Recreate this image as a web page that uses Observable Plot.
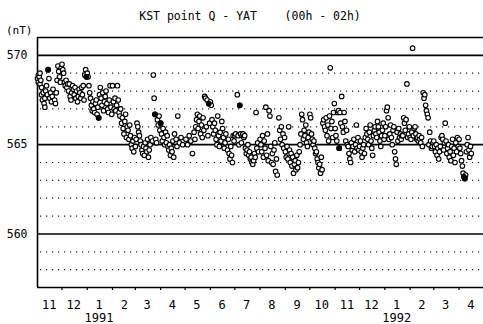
<!DOCTYPE html>
<html>
<head>
<meta charset="utf-8">
<script src="https://cdn.jsdelivr.net/npm/d3@7"></script>
<script src="https://cdn.jsdelivr.net/npm/@observablehq/plot@0.6"></script>
<style>
  html, body { margin: 0; padding: 0; background: #fff; }
  #wrap { position: relative; width: 483px; height: 324px; overflow: hidden; font-family: "DejaVu Sans Mono", monospace; color: #000; }
  #title { position: absolute; left: 0; width: 500px; top: 9px; text-align: center; font-size: 11.5px; white-space: pre; }
  #unit { position: absolute; left: 6px; top: 24px; font-size: 11px; }
  #chart { position: absolute; left: 0; top: 0; }
</style>
</head>
<body>
<div id="wrap">
  <div id="chart"></div>
  <div id="title">KST point Q - YAT    (00h - 02h)</div>
  <div id="unit">(nT)</div>
</div>
<script>
// Daily values (nT): [day of month, value]
const nov1990 = [[1,568.7],[2,568.9],[2,568.5],[3,568.8],[4,569.0],[4,568.4],[5,568.6],[6,568.2],[6,567.8],[7,567.5],[8,567.9],[9,567.3],[10,567.6],[10,567.1],[11,568.0],[12,568.3],[13,567.8],[14,569.2],[15,568.7],[16,567.6],[17,567.9],[18,567.4],[19,567.7],[20,568.1],[22,567.5],[23,567.3],[24,567.9],[25,568.6],[26,569.4],[27,569.1],[28,568.8],[29,568.5],[30,569.3]];
const dec1990 = [[1,569.5],[2,569.2],[3,569.0],[4,568.5],[5,568.3],[6,568.6],[7,568.2],[8,568.4],[9,568.0],[10,568.4],[11,567.7],[12,567.5],[13,567.9],[14,568.3],[15,568.1],[16,567.8],[17,568.2],[18,567.6],[19,568.0],[20,567.4],[21,567.7],[22,568.1],[23,567.9],[24,567.6],[25,568.2],[26,567.8],[27,568.3],[28,567.5],[29,568.9],[30,569.2],[31,568.8]];
const jan1991 = [[1,569.0],[2,568.8],[3,568.3],[4,567.9],[5,567.6],[6,567.2],[7,566.9],[8,567.4],[9,567.0],[10,566.8],[11,567.3],[12,567.5],[13,566.7],[14,567.1],[15,566.5],[16,567.8],[17,568.2],[18,567.6],[19,567.2],[20,567.9],[21,566.9],[22,567.4],[23,567.7],[24,568.0],[25,567.3],[26,567.0],[27,566.8],[28,567.5],[29,568.3],[30,567.1],[31,566.7]];
const feb1991 = [[1,568.3],[2,567.4],[3,567.0],[4,567.6],[5,566.9],[6,567.2],[7,568.3],[8,567.5],[9,566.8],[10,566.6],[11,567.0],[12,566.2],[13,566.5],[14,565.9],[15,565.6],[16,566.3],[17,566.7],[18,565.4],[19,566.0],[20,565.8],[21,565.3],[22,566.1],[23,565.5],[24,565.0],[25,564.8],[26,565.2],[27,564.6],[28,565.4]];
const mar1991 = [[1,564.9],[2,565.3],[3,566.2],[4,566.0],[5,565.7],[6,565.5],[7,565.2],[8,565.0],[9,564.7],[10,564.5],[11,564.9],[12,564.4],[13,565.1],[14,564.8],[15,564.6],[16,565.3],[17,564.3],[18,564.7],[19,565.0],[20,565.4],[22,565.2],[23,568.9],[24,567.6],[25,566.7],[26,565.3],[27,565.1],[28,566.4],[29,566.1],[30,566.6],[31,565.8]];
const apr1991 = [[1,566.2],[2,565.6],[3,565.2],[4,565.9],[5,565.4],[6,565.0],[7,565.7],[8,565.1],[9,565.5],[10,564.9],[11,564.7],[12,565.0],[13,564.4],[14,564.8],[15,564.6],[16,565.2],[17,564.3],[18,565.6],[20,565.3],[21,564.9],[22,566.6],[24,565.1],[26,565.4],[28,565.0]];
const may1991 = [[2,565.3],[4,565.0],[6,565.5],[8,565.2],[10,564.5],[12,565.7],[13,565.3],[14,566.0],[15,566.4],[16,566.7],[17,565.9],[18,566.3],[19,566.6],[20,565.6],[21,566.1],[22,565.4],[23,566.5],[24,565.8],[25,567.7],[26,567.6],[27,566.0],[28,567.5],[29,565.5],[30,567.3],[31,566.2]];
const jun1991 = [[1,567.4],[2,567.2],[3,566.4],[4,566.0],[5,565.6],[6,566.2],[7,565.8],[8,565.3],[9,565.0],[10,566.6],[11,565.5],[12,564.9],[13,565.7],[14,565.2],[15,566.3],[16,565.9],[17,565.4],[18,564.8],[19,565.1],[20,565.6],[22,564.7],[23,565.3],[24,564.5],[25,564.2],[26,564.9],[27,564.4],[28,564.0],[29,565.5],[30,565.2]];
const jul1991 = [[1,565.5],[2,565.6],[4,567.8],[5,565.5],[6,565.0],[7,567.2],[8,565.6],[9,565.1],[10,565.5],[11,565.6],[12,565.4],[13,565.5],[14,564.8],[15,564.5],[16,564.7],[17,565.0],[18,564.4],[19,564.6],[20,564.2],[21,564.3],[22,564.0],[23,563.9],[24,564.1],[25,564.5],[26,564.3],[27,566.8],[28,564.8],[29,565.1],[30,564.6]];
const aug1991 = [[1,565.3],[2,565.0],[3,564.6],[4,565.5],[5,564.3],[6,565.2],[7,564.8],[8,567.1],[9,564.4],[10,565.6],[11,564.1],[12,566.9],[13,566.6],[14,564.9],[15,564.0],[16,564.5],[17,563.9],[18,564.7],[19,565.1],[20,563.5],[21,564.2],[22,563.3],[24,566.5],[25,565.8],[26,565.3],[27,566.0],[28,565.0],[29,565.6],[30,564.8],[31,565.4]];
const sep1991 = [[1,564.6],[2,564.3],[3,564.9],[4,564.2],[5,566.0],[6,564.7],[7,564.0],[8,564.5],[9,563.8],[10,564.3],[11,563.4],[12,563.9],[13,564.1],[14,563.6],[15,564.4],[16,563.7],[17,564.0],[18,564.6],[19,565.0],[20,565.6],[21,566.7],[22,566.4],[23,565.3],[24,565.8],[25,565.5],[26,566.1],[27,565.1],[28,564.9],[29,565.4],[30,565.7]];
const oct1991 = [[1,566.7],[2,566.5],[3,565.6],[4,565.3],[5,565.0],[6,565.2],[7,564.8],[8,564.5],[9,564.6],[10,564.2],[11,564.0],[12,563.7],[13,563.9],[14,563.4],[15,564.3],[16,563.6],[17,566.2],[18,566.4],[19,566.0],[20,565.8],[21,566.5],[22,565.5],[23,566.1],[24,565.2],[25,566.6],[26,569.3],[27,565.9],[28,566.3],[29,565.4],[30,566.8],[31,567.3]];
const nov1991 = [[1,565.9],[2,565.5],[3,565.2],[4,566.8],[5,566.9],[6,564.8],[7,566.8],[8,566.2],[9,567.7],[10,566.0],[11,565.7],[12,566.8],[13,566.3],[14,565.2],[15,565.8],[16,565.0],[17,564.9],[18,564.5],[19,564.2],[20,564.0],[21,565.1],[22,564.7],[23,564.9],[24,565.3],[25,564.6],[26,565.0],[27,566.1],[28,564.8],[29,565.4],[30,564.7]];
const dec1991 = [[1,564.9],[2,565.2],[3,564.6],[4,564.3],[5,564.8],[6,565.0],[7,564.5],[8,565.4],[9,565.9],[10,565.6],[11,565.3],[12,565.0],[13,565.7],[14,566.1],[15,565.2],[16,564.8],[17,564.4],[18,565.5],[19,565.8],[20,566.0],[21,565.6],[22,565.4],[23,566.3],[24,566.0],[25,565.7],[26,565.2],[27,564.9],[28,565.5],[29,565.8],[30,566.2],[31,565.3]];
const jan1992 = [[1,565.5],[2,566.0],[3,566.9],[4,567.1],[5,566.5],[6,565.3],[7,565.6],[8,566.1],[9,565.4],[10,565.0],[11,565.8],[12,566.0],[13,564.6],[14,564.2],[15,563.9],[16,565.7],[17,565.2],[18,565.9],[19,565.4],[20,565.6],[21,565.3],[22,565.5],[23,565.5],[24,566.5],[25,566.2],[26,565.8],[27,566.4],[28,568.4],[29,565.4],[30,565.6],[31,566.0]];
const feb1992 = [[1,565.4],[2,565.3],[3,565.7],[4,570.4],[5,565.5],[6,565.9],[7,566.0],[8,565.6],[9,565.3],[10,565.4],[11,565.2],[12,565.5],[13,565.3],[14,565.1],[15,565.4],[16,564.9],[17,567.9],[18,567.6],[19,567.8],[20,567.2],[21,566.9],[22,566.7],[23,566.5],[24,565.0],[25,565.7],[26,565.2],[27,564.8],[28,564.9],[29,565.1]];
const mar1992 = [[1,565.2],[2,564.9],[3,564.6],[4,565.0],[5,564.4],[6,564.8],[7,564.2],[8,564.6],[9,564.9],[10,565.4],[11,565.5],[12,565.3],[13,564.7],[14,565.1],[15,566.2],[16,565.2],[17,564.5],[18,564.8],[19,565.0],[20,564.3],[21,564.6],[22,564.1],[23,564.9],[24,565.3],[25,564.4],[26,564.8],[27,564.0],[28,565.1],[29,564.6],[30,565.4],[31,564.9]];
const apr1992 = [[1,565.3],[2,564.8],[3,564.5],[4,564.1],[5,563.8],[6,563.4],[7,563.2],[8,563.1],[9,563.3],[10,564.6],[11,565.0],[12,565.4],[13,564.7],[14,564.3],[15,564.9],[16,564.5]];

// Dark (filled-looking) points in the scan: [year, month, day]
const filledDays = [[1990,11,14],[1990,12,31],[1991,1,15],[1991,3,25],[1991,4,1],[1991,5,30],[1991,7,7],[1991,11,6],[1992,4,7],[1992,4,8]];

const monthBlocks = [
  [1990,11,nov1990],[1990,12,dec1990],[1991,1,jan1991],[1991,2,feb1991],[1991,3,mar1991],[1991,4,apr1991],
  [1991,5,may1991],[1991,6,jun1991],[1991,7,jul1991],[1991,8,aug1991],[1991,9,sep1991],[1991,10,oct1991],
  [1991,11,nov1991],[1991,12,dec1991],[1992,1,jan1992],[1992,2,feb1992],[1992,3,mar1992],[1992,4,apr1992]
];

const yLabels = [560, 565, 570];
const solidLevels = [557, 560, 565, 570, 571];
const dottedLevels = [558, 559, 561, 562, 563, 564, 566, 567, 568, 569];
const yDomain = [557, 571];
const xStart = new Date(Date.UTC(1990, 10, 1));
const xEnd = new Date(Date.UTC(1992, 4, 1));

const rows = [];
for (const [yr, mo, arr] of monthBlocks) {
  for (const [day, v] of arr) rows.push({date: new Date(Date.UTC(yr, mo - 1, day, 1)), value: v});
}
const filledKeys = new Set(filledDays.map(([y, m, d]) => `${y}-${m}-${d}`));
const filledRows = rows.filter(r => filledKeys.has(`${r.date.getUTCFullYear()}-${r.date.getUTCMonth() + 1}-${r.date.getUTCDate()}`));

const monthStarts = d3.utcMonth.range(xStart, d3.utcMonth.offset(xEnd, 1));
const midMonths = d3.utcMonth.range(xStart, xEnd).map(d => new Date(d.getTime() + 14.5 * 864e5));

const chart = Plot.plot({
  width: 483,
  height: 324,
  marginLeft: 37,
  marginRight: 0,
  marginTop: 37,
  marginBottom: 37,
  style: {fontFamily: "'DejaVu Sans Mono', monospace", fontSize: "11px", background: "#fff", color: "#000"},
  x: {type: "utc", domain: [xStart, xEnd]},
  y: {domain: yDomain},
  marks: [
    Plot.ruleY(dottedLevels, {stroke: "#222", strokeWidth: 1.2, strokeDasharray: "1.2,4.8", x1: xStart, x2: xEnd, dx: 3}),
    Plot.ruleY(solidLevels, {stroke: "#000", strokeWidth: 1.6}),
    Plot.ruleX([xStart], {stroke: "#000", strokeWidth: 1.6}),
    Plot.axisY(yLabels, {tickSize: 0, tickPadding: 10, fontSize: 11.5, label: null}),
    Plot.axisX(monthStarts.filter(d => d > xStart && d < xEnd), {tickSize: 3, tickFormat: () => "", label: null, strokeWidth: 1.2}),
    Plot.axisX(midMonths, {
      tickSize: 0, tickPadding: 12, fontSize: 12, label: null, lineHeight: 1.1,
      tickFormat: d => {
        const m = d.getUTCMonth() + 1;
        return m === 1 ? `${m}\n${d.getUTCFullYear()}` : `${m}`;
      }
    }),
    Plot.dot(rows, {x: "date", y: "value", r: 2.3, stroke: "#000", strokeWidth: 1.1, fill: "#fff"}),
    Plot.dot(filledRows, {x: "date", y: "value", r: 2.3, stroke: "#000", strokeWidth: 1.1, fill: "#000"})
  ]
});
document.getElementById("chart").appendChild(chart);
</script>
</body>
</html>
